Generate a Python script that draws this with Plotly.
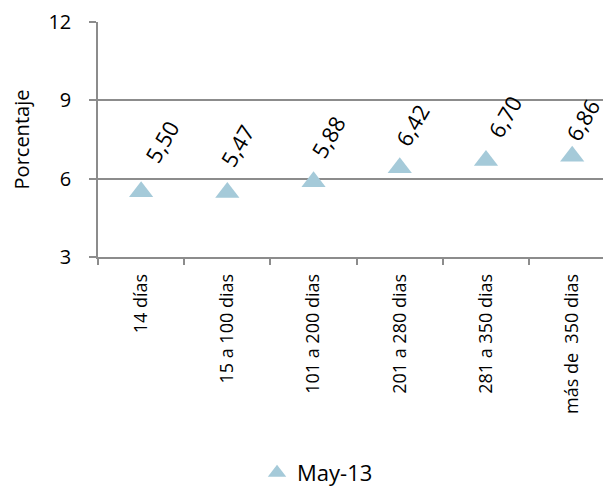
import plotly.graph_objects as go

categories = ["14 días", "15 a 100 dias", "101 a 200 dias", "201 a 280 dias", "281 a 350 dias", "más de  350 dias"]
values = [5.50, 5.47, 5.88, 6.42, 6.70, 6.86]
series_name = "May-13"
y_ticks = [3, 6, 9, 12]

# label offsets (pixels) for the rotated data labels
label_dx = [20, 9, 14, 12, 19, 10]
label_dy = [50, 47, 45, 43, 44, 36]

FONT = "Open Sans"
GRID = "#8c8c8c"
MARK = "#a5cad9"

fig = go.Figure()
fig.add_trace(go.Scatter(
    x=categories, y=values, mode="markers", name=series_name,
    marker=dict(symbol="triangle-up", size=21, color=MARK),
))

for c, v, dx, dy in zip(categories, values, label_dx, label_dy):
    fig.add_annotation(
        x=c, y=v, text=f"{v:.2f}".replace(".", ","), showarrow=False,
        textangle=-60, xshift=dx, yshift=dy,
        font=dict(family=FONT, size=22, color="black"),
    )

fig.update_layout(
    width=603, height=486,
    margin=dict(l=89, r=0, t=9, b=235),
    paper_bgcolor="white", plot_bgcolor="white",
    font=dict(family=FONT, color="black"),
    showlegend=True,
    legend=dict(orientation="h", x=0.31, xanchor="left", y=-0.92, yanchor="middle",
                font=dict(family=FONT, size=22), itemsizing="trace", itemwidth=30),
    xaxis=dict(
        type="category", range=[-0.5, 5.45], showgrid=False,
        showline=True, linecolor=GRID, linewidth=1.5,
        ticks="outside", tickson="boundaries", ticklen=6, tickcolor=GRID, tickwidth=1.5,
        tickangle=-90, tickfont=dict(family=FONT, size=18), ticklabelstandoff=8,
    ),
    yaxis=dict(
        range=[3, 12], tickvals=y_ticks, showgrid=True, gridcolor=GRID, gridwidth=1.5,
        showline=True, linecolor=GRID, linewidth=1.5,
        ticks="outside", ticklen=7, tickcolor=GRID, tickwidth=1.5,
        tickfont=dict(family=FONT, size=20), zeroline=False, ticklabelstandoff=14,
        ticklabeloverflow="allow",
        title=dict(text="Porcentaje", font=dict(family=FONT, size=20), standoff=26),
    ),
)

fig.write_html("out.html")
